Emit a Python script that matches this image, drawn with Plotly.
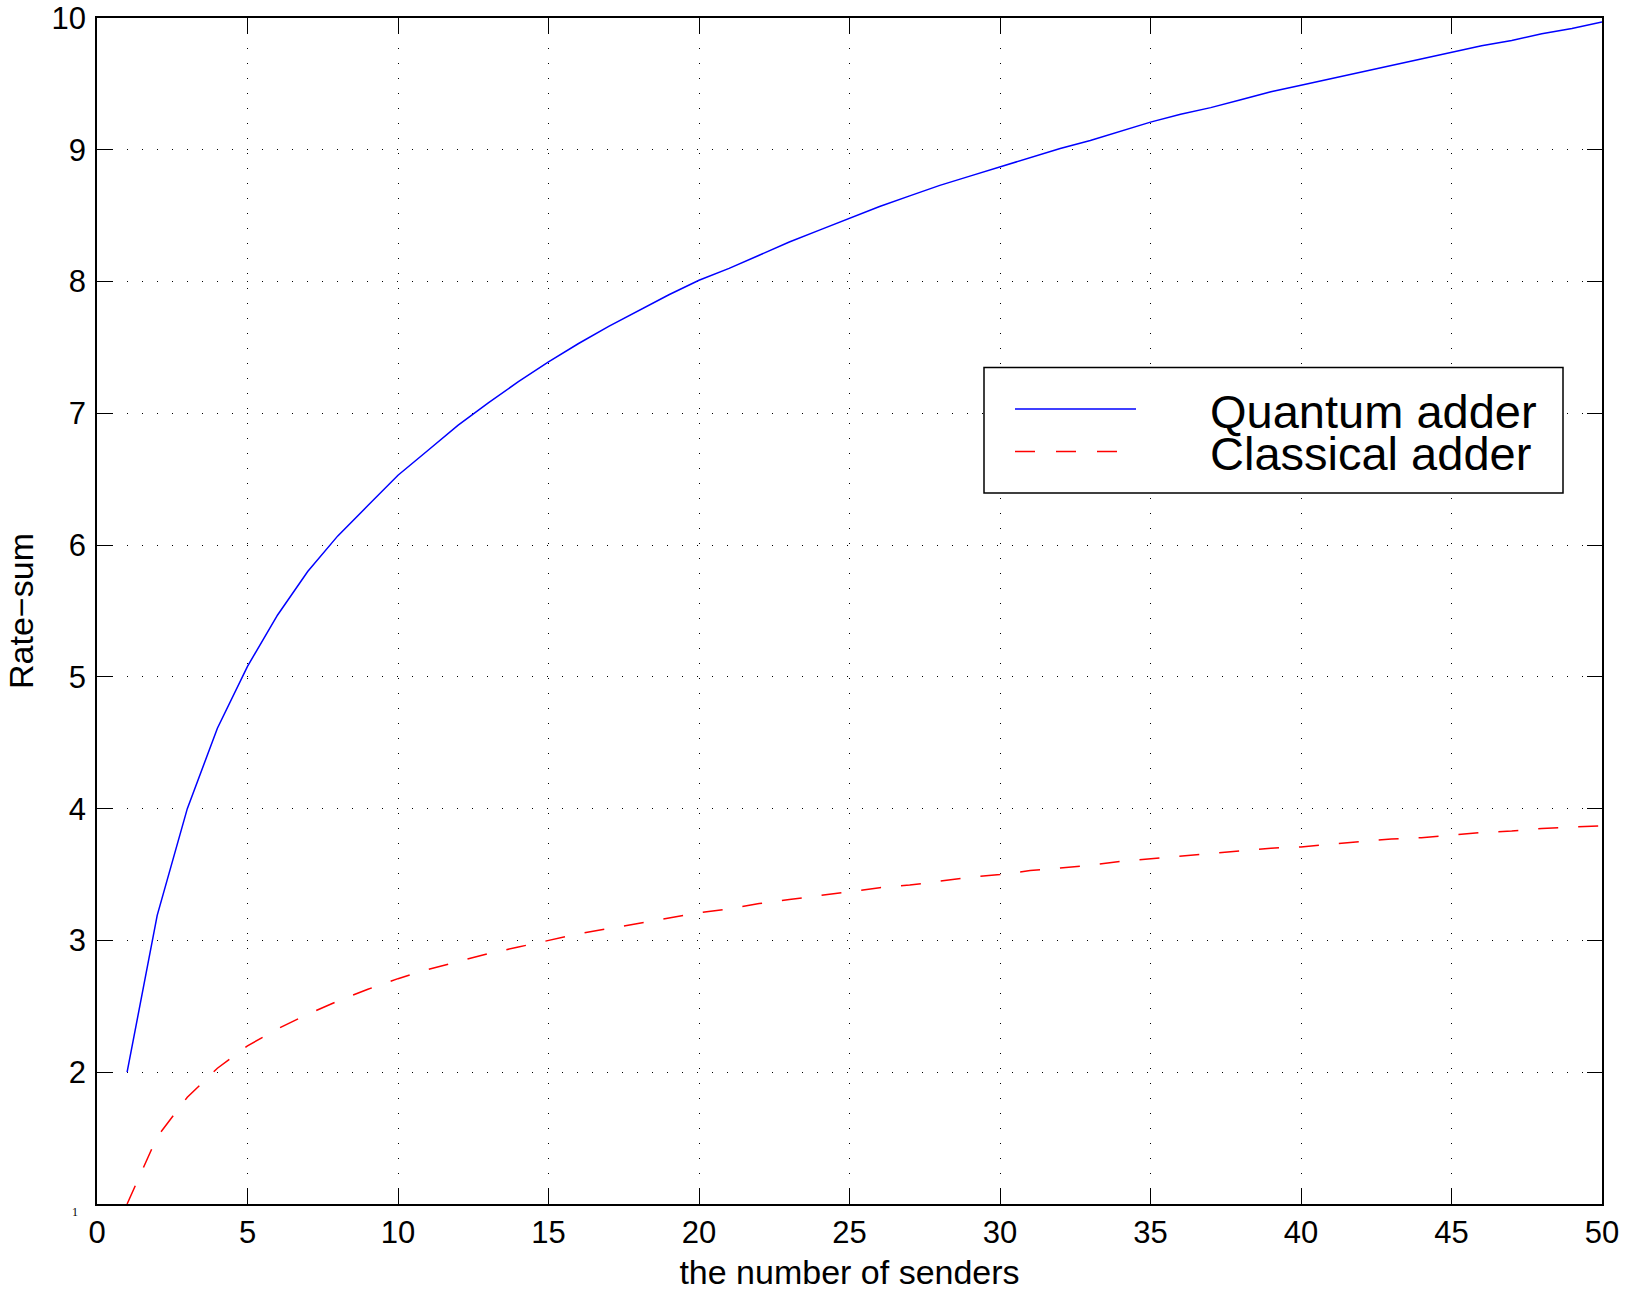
import plotly.graph_objects as go

# ---- data ----
senders = list(range(1, 51))
quantum_adder = [2.00, 3.19, 4.00, 4.61, 5.08, 5.47, 5.80, 6.07, 6.30, 6.53,
                 6.72, 6.91, 7.08, 7.24, 7.39, 7.53, 7.66, 7.78, 7.90, 8.01,
                 8.10, 8.20, 8.30, 8.39, 8.48, 8.57, 8.65, 8.73, 8.80, 8.87,
                 8.94, 9.01, 9.07, 9.14, 9.21, 9.27, 9.32, 9.38, 9.44, 9.49,
                 9.54, 9.59, 9.64, 9.69, 9.74, 9.79, 9.83, 9.88, 9.92, 9.97]
classical_adder = [1.00, 1.51, 1.81, 2.03, 2.20, 2.33, 2.44, 2.54, 2.63, 2.71,
                   2.78, 2.84, 2.90, 2.95, 3.00, 3.05, 3.09, 3.13, 3.17, 3.21,
                   3.24, 3.28, 3.31, 3.34, 3.37, 3.40, 3.42, 3.45, 3.48, 3.50,
                   3.53, 3.55, 3.57, 3.60, 3.62, 3.64, 3.66, 3.68, 3.70, 3.71,
                   3.73, 3.75, 3.77, 3.78, 3.80, 3.82, 3.83, 3.85, 3.86, 3.87]
series_names = ["Quantum adder", "Classical adder"]
x_ticks = [0, 5, 10, 15, 20, 25, 30, 35, 40, 45, 50]
y_ticks = [1, 2, 3, 4, 5, 6, 7, 8, 9, 10]
y_tick_labels = ["", "2", "3", "4", "5", "6", "7", "8", "9", "10"]
x_title = "the number of senders"
y_title = "Rate\u2212sum"

# ---- layout geometry (pixels) ----
OFF = 0  # page body margin removed by post_script below
W, H = 1628, 1295
L, R, T, B = 97, 26, 18, 91
PW, PH = W - L - R, H - T - B


def px(xp):  # page pixel -> paper x
    return (xp - OFF - L) / PW


def py(yp):  # page pixel -> paper y
    return 1 - (yp - OFF - T) / PH


FONT = "Liberation Sans, Arial, Helvetica, sans-serif"

fig = go.Figure()
fig.add_trace(go.Scatter(x=senders, y=quantum_adder, mode="lines", name=series_names[0],
                         line=dict(color="#0000ff", width=1.5)))
fig.add_trace(go.Scatter(x=senders, y=classical_adder, mode="lines", name=series_names[1],
                         line=dict(color="#ff0000", width=1.5, dash="20px,20px")))

axis_common = dict(
    showline=True, linecolor="black", linewidth=1.5, mirror="ticks",
    ticks="inside", ticklen=15, tickwidth=1.2, tickcolor="black",
    showgrid=True, gridcolor="black", gridwidth=1, griddash="1px,14px",
    zeroline=False, tickfont=dict(family=FONT, size=31, color="black"),
    ticklabeloverflow="allow",
)

fig.update_xaxes(range=[0, 50], tickvals=x_ticks, ticktext=[str(v) for v in x_ticks],
                 title=dict(text=x_title, font=dict(family=FONT, size=34, color="black"), standoff=11),
                 **axis_common)
fig.update_yaxes(range=[1, 10], tickvals=y_ticks, ticktext=y_tick_labels, ticklabelstandoff=3,
                 title=dict(text=y_title, font=dict(family=FONT, size=34, color="black"), standoff=8),
                 **axis_common)

shapes = [
    # legend box
    dict(type="rect", xref="paper", yref="paper", x0=px(984), x1=px(1563), y0=py(493), y1=py(367.6),
         line=dict(color="black", width=1.5), fillcolor="white", layer="above"),
    dict(type="line", xref="paper", yref="paper", x0=px(1015), x1=px(1136), y0=py(409), y1=py(409),
         line=dict(color="#0000ff", width=1.5), layer="above"),
    dict(type="line", xref="paper", yref="paper", x0=px(1015), x1=px(1117), y0=py(451.5), y1=py(451.5),
         line=dict(color="#ff0000", width=1.5, dash="20px,21px"), layer="above"),
]

annotations = [
    dict(text=series_names[0], xref="paper", yref="paper", x=px(1208), y=py(411),
         xanchor="left", yanchor="middle", showarrow=False,
         font=dict(family=FONT, size=47, color="black")),
    dict(text=series_names[1], xref="paper", yref="paper", x=px(1208), y=py(453),
         xanchor="left", yanchor="middle", showarrow=False,
         font=dict(family=FONT, size=47, color="black")),
    dict(text="1", xref="paper", yref="paper", x=px(75), y=py(1212),
         xanchor="center", yanchor="middle", showarrow=False,
         font=dict(family="Liberation Serif, Times New Roman, serif", size=12, color="black")),
]

fig.update_layout(
    width=W, height=H,
    margin=dict(l=L, r=R, t=T, b=B, autoexpand=False),
    paper_bgcolor="white", plot_bgcolor="white",
    showlegend=False,
    shapes=shapes, annotations=annotations,
)

fig.write_html("out.html", config={"displayModeBar": False},
               post_script="document.body.style.margin='0px';")
